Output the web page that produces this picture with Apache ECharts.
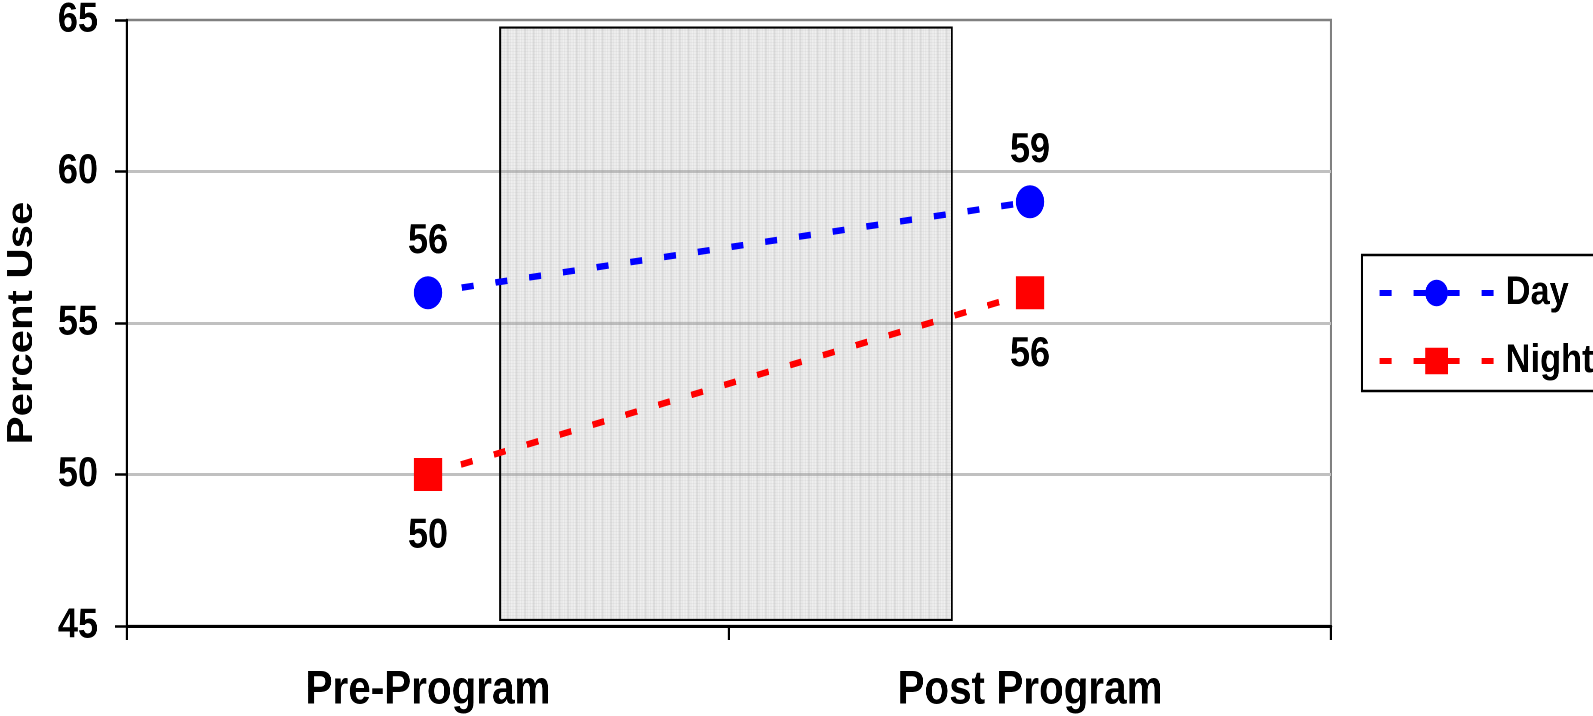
<!DOCTYPE html>
<html>
<head>
<meta charset="utf-8">
<script src="https://cdn.jsdelivr.net/npm/echarts@6/dist/echarts.min.js"></script>
<style>
html,body{margin:0;padding:0;background:#fff;overflow:hidden;width:1593px;height:716px}
#c{height:716px;transform-origin:0 0}
</style>
</head>
<body>
<div id="c"></div>
<script>
var categories = ['Pre-Program', 'Post Program'];
var dayValues = [56, 59];
var nightValues = [50, 56];
var seriesNames = ['Day', 'Night'];
var yTicks = [45, 50, 55, 60, 65];
// shaded period box in data units: [xStart, xEnd, yBottom, yTop] (x: 0 = Pre, 1 = Post)
var shadedBox = [0.12, 0.87, 45.2, 64.75];

// The reference is horizontally condensed; draw wider and squeeze with CSS.
var S = 0.86;
function px(x) { return x / S; }
var W = Math.round(1593 / S);
var el = document.getElementById('c');
el.style.width = W + 'px';
el.style.transform = 'scaleX(' + S + ')';

var FONT = '"Liberation Sans", Arial, sans-serif';

// hatched light-gray pattern
var pc = document.createElement('canvas');
pc.width = 10; pc.height = 9;
var g = pc.getContext('2d');
g.fillStyle = 'rgba(190,190,190,0.22)';
g.fillRect(0, 0, 10, 9);
g.fillStyle = 'rgba(160,160,160,0.16)';
for (var i = 0; i < 10; i += 3) { g.fillRect(i, 0, 1, 9); }
for (var j = 0; j < 9; j += 3) { g.fillRect(0, j, 10, 1); }
g.fillStyle = 'rgba(150,150,150,0.14)';
g.fillRect(0, 0, 2, 9);

var chart = echarts.init(el, null, {renderer: 'canvas', devicePixelRatio: 2});
chart.setOption({
  animation: false,
  backgroundColor: '#ffffff',
  grid: {left: px(127), right: W - px(1331), top: 20, bottom: 90, outerBoundsMode: 'none',
         show: true, borderColor: '#808080', borderWidth: 2.5, backgroundColor: 'transparent'},
  legend: {
    left: px(1362), top: 255, orient: 'vertical',
    data: seriesNames,
    itemWidth: px(114), itemHeight: 33, itemGap: 28,
    padding: [18, 60, 10, px(15)],
    borderColor: '#000', borderWidth: 2.5, backgroundColor: '#fff',
    lineStyle: {width: 6, type: [px(12), px(22)]},
    textStyle: {fontFamily: FONT, fontWeight: 'bold', fontSize: 40, color: '#000', lineHeight: 33, padding: [0, 0, 0, 9]}
  },
  xAxis: [{
    type: 'category', data: categories, boundaryGap: true,
    axisLine: {lineStyle: {color: '#000', width: 3}},
    axisTick: {show: true, length: 14, lineStyle: {color: '#000', width: 2.5}},
    axisLabel: {margin: 41, fontFamily: FONT, fontWeight: 'bold', fontSize: 47, color: '#000'},
    splitLine: {show: false}
  }, {
    type: 'value', min: -0.5, max: 1.5, show: false
  }],
  yAxis: {
    type: 'value', min: yTicks[0], max: yTicks[yTicks.length - 1], interval: 5,
    name: 'Percent Use', nameLocation: 'middle', nameRotate: 90, nameGap: px(127) - px(22) - 21,
    nameTextStyle: {fontFamily: FONT, fontWeight: 'bold', fontSize: 42, color: '#000'},
    axisLine: {show: true, onZero: false, lineStyle: {color: '#000', width: 2.5}},
    axisTick: {show: true, length: px(12), lineStyle: {color: '#000', width: 2.5}},
    axisLabel: {margin: px(29), fontFamily: FONT, fontWeight: 'bold', fontSize: 42, color: '#000'},
    splitLine: {show: true, showMinLine: false, showMaxLine: false, lineStyle: {color: '#c0c0c0', width: 3}}
  },
  series: [{
    type: 'line', xAxisIndex: 1, data: [], z: 1, silent: true,
    markArea: {
      silent: true,
      itemStyle: {color: {image: pc, repeat: 'repeat'}, borderColor: '#000', borderWidth: 2.2},
      data: [[{coord: [shadedBox[0], shadedBox[3]]}, {coord: [shadedBox[1], shadedBox[2]]}]]
    }
  }, {
    name: seriesNames[0], type: 'line', data: dayValues, z: 5,
    symbol: 'circle', symbolSize: [33, 33],
    itemStyle: {color: '#0000ff'},
    lineStyle: {color: '#0000ff', width: 6.5, type: [px(12), px(22)]},
    label: {show: true, position: 'top', distance: 14, fontFamily: FONT, fontWeight: 'bold', fontSize: 42, color: '#000'}
  }, {
    name: seriesNames[1], type: 'line', data: nightValues, z: 5,
    symbol: 'rect', symbolSize: [33, 33],
    itemStyle: {color: '#ff0000'},
    lineStyle: {color: '#ff0000', width: 6.5, type: [px(12), px(22)]},
    label: {show: true, position: 'bottom', distance: 24, fontFamily: FONT, fontWeight: 'bold', fontSize: 42, color: '#000'}
  }]
});
</script>
</body>
</html>
